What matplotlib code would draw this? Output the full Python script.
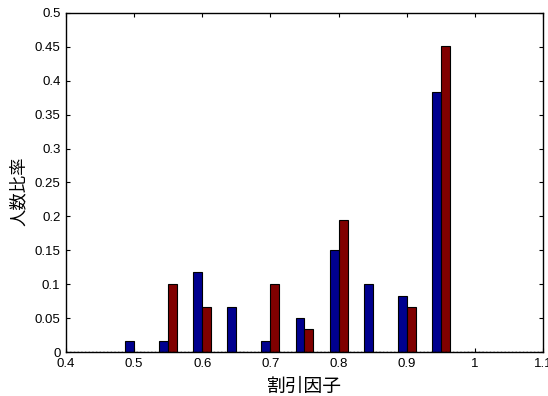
import matplotlib
matplotlib.use('Agg')
from matplotlib import pyplot as plt
import numpy as np

plt.rcParams['font.family'] = ['Liberation Sans', 'Noto Sans CJK JP', 'DejaVu Sans']

# discount factor groups
factors = [0.5, 0.55, 0.6, 0.65, 0.7, 0.75, 0.8, 0.85, 0.9, 0.95, 1.0]
blue_vals = [0.0167, 0.0167, 0.118, 0.0667, 0.0167, 0.05, 0.15, 0.1, 0.0833, 0.383, 0]
red_vals = [0, 0.1, 0.0667, 0, 0.1, 0.0333, 0.195, 0, 0.0667, 0.452, 0]

xticks = [0.4, 0.5, 0.6, 0.7, 0.8, 0.9, 1, 1.1]
xtick_labels = ['0.4', '0.5', '0.6', '0.7', '0.8', '0.9', '1', '1.1']
yticks = [0, 0.05, 0.1, 0.15, 0.2, 0.25, 0.3, 0.35, 0.4, 0.45, 0.5]
ytick_labels = ['0', '0.05', '0.1', '0.15', '0.2', '0.25', '0.3', '0.35', '0.4', '0.45', '0.5']

fig = plt.figure(figsize=(5.48, 3.96), dpi=100)
ax = fig.add_axes([0.1204, 0.1111, 0.8705, 0.8561])

x = np.array(factors)
w = 0.0132
ax.bar(x - w / 2, blue_vals, width=w, color='#00008f', edgecolor='black', linewidth=0.8)
ax.bar(x + w / 2, red_vals, width=w, color='#800000', edgecolor='black', linewidth=0.8)

ax.axhline(0, color='black', linestyle=':', linewidth=1.0)

ax.set_xlim(0.4, 1.1)
ax.set_ylim(0, 0.5)
ax.set_xticks(xticks)
ax.set_xticklabels(xtick_labels)
ax.set_yticks(yticks)
ax.set_yticklabels(ytick_labels)
ax.tick_params(direction='in', top=True, right=True, labelsize=9.5, length=3, width=0.8, pad=4)
for s in ax.spines.values():
    s.set_linewidth(1.0)

ax.set_xlabel('割引因子', fontsize=13.5, family=['Noto Sans CJK JP'])
ax.set_ylabel('人数比率', fontsize=12.5, family=['Noto Sans CJK JP'])
ax.xaxis.set_label_coords(0.5, -0.072)
ax.yaxis.set_label_coords(-0.08, 0.475)

fig.savefig('out.png', dpi=100)
